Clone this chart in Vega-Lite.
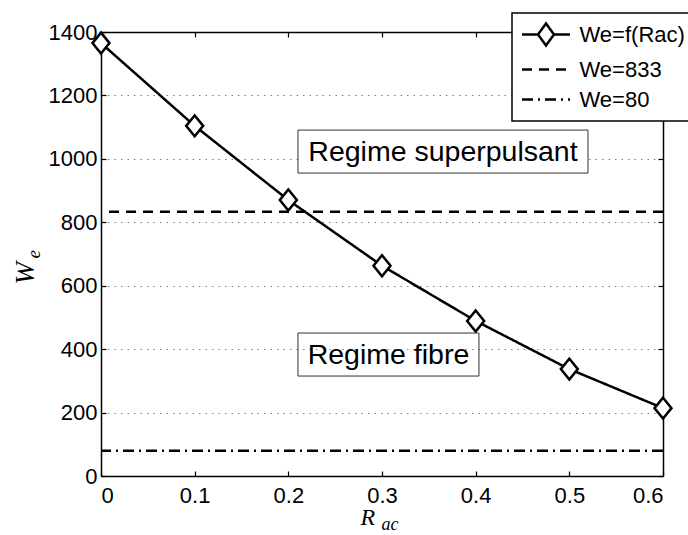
{
  "$schema": "https://vega.github.io/schema/vega-lite/v6.json",
  "width": 562,
  "height": 444,
  "autosize": {"type": "none"},
  "padding": {"left": 101, "top": 32, "right": 25, "bottom": 59},
  "background": "white",
  "datasets": {
    "curve": [
      {"R": 0.0, "We": 1365, "series": "We=f(Rac)"},
      {"R": 0.1, "We": 1104, "series": "We=f(Rac)"},
      {"R": 0.2, "We": 870, "series": "We=f(Rac)"},
      {"R": 0.3, "We": 663, "series": "We=f(Rac)"},
      {"R": 0.4, "We": 489, "series": "We=f(Rac)"},
      {"R": 0.5, "We": 337, "series": "We=f(Rac)"},
      {"R": 0.6, "We": 214, "series": "We=f(Rac)"}
    ],
    "levels": [
      {"We": 833, "series": "We=833"},
      {"We": 80, "series": "We=80"}
    ],
    "notes": [
      {"R": 0.3651, "We": 1023, "label": "Regime superpulsant"},
      {"R": 0.3069, "We": 383, "label": "Regime fibre"}
    ]
  },
  "config": {
    "view": {"stroke": null},
    "font": "Liberation Sans",
    "mark": {"color": "black"},
    "axis": {
      "domainColor": "black",
      "domainWidth": 1.5,
      "tickColor": "black",
      "tickWidth": 1.2,
      "tickSize": -5,
      "labelFont": "Liberation Sans",
      "labelFontSize": 22,
      "labelColor": "black",
      "titleFont": "Liberation Serif",
      "titleFontStyle": "italic",
      "titleFontWeight": "normal",
      "titleColor": "black",
      "grid": false
    }
  },
  "resolve": {"axis": {"x": "independent", "y": "independent"}},
  "layer": [
    {
      "data": {"name": "levels"},
      "mark": {"type": "rule", "strokeWidth": 2.5, "color": "black"},
      "encoding": {
        "y": {
          "field": "We",
          "type": "quantitative",
          "scale": {"domain": [0, 1400], "nice": false},
          "axis": {
            "orient": "left",
            "values": [0, 200, 400, 600, 800, 1000, 1200, 1400],
            "format": "d",
            "labelPadding": 9,
            "grid": true,
            "gridColor": "#808080",
            "gridDash": [1.5, 5],
            "gridWidth": 1,
            "title": "W",
            "titleFontSize": 27,
            "titleAngle": 270,
            "titleAlign": "left",
            "titleBaseline": "alphabetic",
            "titleX": -68,
            "titleY": 252
          }
        },
        "strokeDash": {
          "field": "series",
          "type": "nominal",
          "scale": {
            "domain": ["We=f(Rac)", "We=833", "We=80"],
            "range": [[1, 0], [10, 7], [11, 5, 2, 5]]
          },
          "legend": {
            "orient": "none",
            "legendX": 411,
            "legendY": -19,
            "title": null,
            "padding": 10,
            "rowPadding": 7,
            "symbolSize": 400,
            "symbolStrokeWidth": 2.5,
            "symbolStrokeColor": "black",
            "symbolFillColor": "white",
            "symbolOffset": 12.5,
            "labelOffset": 22,
            "labelFont": "Liberation Sans",
            "labelFontSize": 22,
            "labelColor": "black",
            "labelLimit": 0,
            "fillColor": "white",
            "strokeColor": "black",
            "encode": {
              "symbols": {
                "update": {
                  "shape": {"signal": "datum.value === 'We=f(Rac)' ? 'M-2.4,0L-0.8,0M0.8,0L2.4,0M-0.8,0L0,-1.1L0.8,0L0,1.1Z' : 'M-2.4,0L2.4,0'"},
                  "fill": {"value": "white"},
                  "stroke": {"value": "black"}
                }
              },
              "legend": {"update": {"strokeWidth": {"value": 1.5}}}
            }
          }
        }
      }
    },
    {
      "data": {"name": "curve"},
      "mark": {"type": "line", "strokeWidth": 2.5, "color": "black"},
      "encoding": {
        "x": {
          "field": "R",
          "type": "quantitative",
          "scale": {"domain": [0, 0.6], "nice": false},
          "axis": {
            "orient": "bottom",
            "values": [0, 0.1, 0.2, 0.3, 0.4, 0.5, 0.6],
            "format": "~g",
            "labelPadding": 14,
            "title": "R",
            "titleFontSize": 24,
            "titleAlign": "left",
            "titleBaseline": "alphabetic",
            "titleX": 259,
            "titleY": 48
          }
        },
        "y": {
          "field": "We",
          "type": "quantitative",
          "axis": {
            "orient": "right",
            "values": [0, 200, 400, 600, 800, 1000, 1200, 1400],
            "labels": false,
            "title": "e",
            "titleFontSize": 19,
            "titleAngle": 270,
            "titleAlign": "left",
            "titleBaseline": "alphabetic",
            "titleX": -624,
            "titleY": 226
          }
        },
        "strokeDash": {"field": "series", "type": "nominal"}
      }
    },
    {
      "data": {"name": "curve"},
      "mark": {"type": "point", "shape": "M-0.85,0L0,-1.05L0.85,0L0,1.05Z", "size": 400, "filled": true, "fill": "white", "stroke": "black", "strokeWidth": 2.5, "opacity": 1},
      "encoding": {
        "x": {
          "field": "R",
          "type": "quantitative",
          "axis": {
            "orient": "top",
            "values": [0, 0.1, 0.2, 0.3, 0.4, 0.5, 0.6],
            "labels": false,
            "title": "ac",
            "titleFontSize": 18,
            "titleAlign": "left",
            "titleBaseline": "alphabetic",
            "titleX": 280,
            "titleY": 497
          }
        },
        "y": {"field": "We", "type": "quantitative", "axis": null}
      }
    },
    {
      "data": {"name": "notes"},
      "transform": [{"filter": "datum.label == 'Regime superpulsant'"}],
      "mark": {"type": "rect", "width": 290, "height": 43, "fill": "white", "stroke": "#333333", "strokeWidth": 1},
      "encoding": {
        "x": {"field": "R", "type": "quantitative", "axis": null},
        "y": {"field": "We", "type": "quantitative", "axis": null}
      }
    },
    {
      "data": {"name": "notes"},
      "transform": [{"filter": "datum.label == 'Regime fibre'"}],
      "mark": {"type": "rect", "width": 181, "height": 43, "fill": "white", "fillOpacity": 0, "stroke": "#333333", "strokeWidth": 1},
      "encoding": {
        "x": {"field": "R", "type": "quantitative", "axis": null},
        "y": {"field": "We", "type": "quantitative", "axis": null}
      }
    },
    {
      "data": {"name": "notes"},
      "mark": {"type": "text", "font": "Liberation Sans", "fontSize": 28.5, "color": "black", "align": "center", "baseline": "middle"},
      "encoding": {
        "x": {"field": "R", "type": "quantitative", "axis": null},
        "y": {"field": "We", "type": "quantitative", "axis": null},
        "text": {"field": "label"}
      }
    }
  ]
}
